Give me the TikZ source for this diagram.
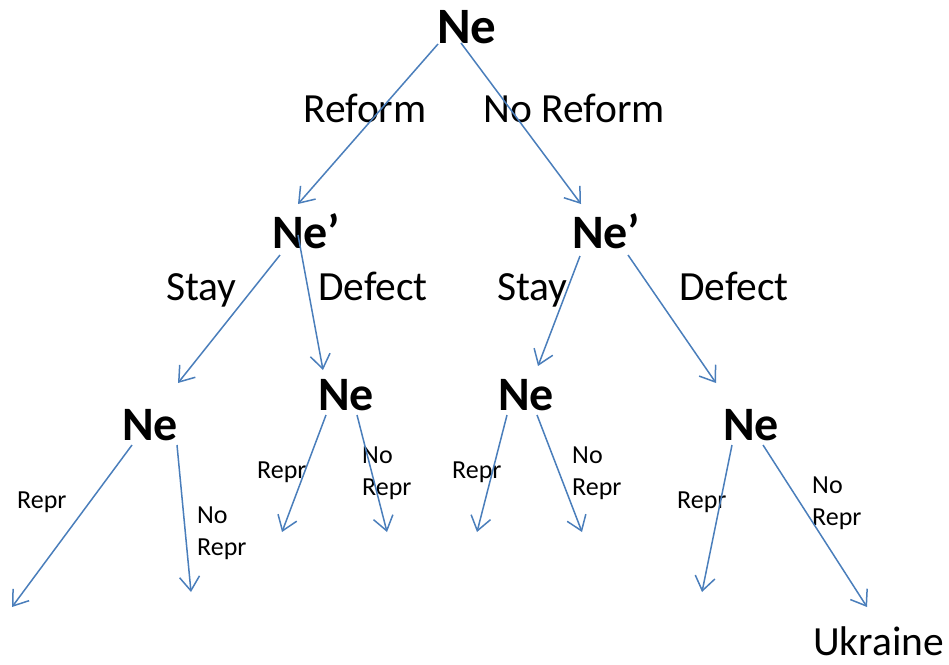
\documentclass[tikz,border=0pt]{standalone}
\usepackage{fontspec}
\setmainfont{Carlito}
\usetikzlibrary{arrows.meta}
\definecolor{edgeblue}{HTML}{4A7EBB}
\tikzset{
 big/.style={font=\fontsize{48}{48}\selectfont\bfseries, inner sep=0, anchor=base west},
 lab/.style={font=\fontsize{41.5}{41.5}\selectfont, inner sep=0, anchor=base west},
 small/.style={font=\fontsize{26}{32}\selectfont, inner sep=0, anchor=base west, align=left},
 arr/.style={draw=edgeblue, line width=1.5pt, -{Straight Barb[length=14pt, width=20pt, line width=1.5pt]}},
}
\begin{document}
\begin{tikzpicture}[x=1pt,y=-1pt]
\useasboundingbox (0,0) rectangle (949,664);
% game nodes
\node[big, font=\fontsize{51}{51}\selectfont\bfseries] (n0) at (437,43) {Ne};
\node[big] (n1) at (272,248) {Ne’};
\node[big] (n2) at (572,248) {Ne’};
\node[big] (n3) at (122,440) {Ne};
\node[big] (n4) at (318,410) {Ne};
\node[big] (n5) at (498,410) {Ne};
\node[big] (n6) at (723,440) {Ne};
% leaf ends
\coordinate (l1) at (12,607);
\coordinate (l2) at (191,592);
\coordinate (l3) at (282,532);
\coordinate (l4) at (387,532);
\coordinate (l5) at (477,532);
\coordinate (l6) at (582,532);
\coordinate (l7) at (702,592);
\coordinate (l8) at (867,607);
% labels
\node[lab] (tReform) at (303,122) {Reform};
\node[lab] (tNoReform) at (483,122) {No Reform};
\node[lab] (tStay1) at (166,300) {Stay};
\node[lab] (tDefect1) at (318,300) {Defect};
\node[lab] (tStay2) at (497,300) {Stay};
\node[lab] (tDefect2) at (679,300) {Defect};
\node[small] (r1) at (17,508) {Repr};
\node[small] (nr1) at (197,555) {No\\Repr};
\node[small] (r2) at (257,478) {Repr};
\node[small] (nr2) at (362,495) {No\\Repr};
\node[small] (r3) at (452,478) {Repr};
\node[small] (nr3) at (572,495) {No\\Repr};
\node[small] (r4) at (677,508) {Repr};
\node[small] (nr4) at (812,525) {No\\Repr};
\node[lab] (ukr) at (813,655) {Ukraine};
% connectors
\draw[arr] ([shift={(1,1)}]n0.base west) -- ([shift={(26,-44)}]n1.base west);
\draw[arr] ([shift={(24,0)}]n0.base west) -- ([shift={(9,-44)}]n2.base west);
\draw[arr] ([shift={(8,7)}]n1.base west) -- ([shift={(56,-57)}]n3.base west);
\draw[arr] ([shift={(26,-13)}]n1.base west) -- ([shift={(5,-40)}]n4.base west);
\draw[arr] ([shift={(8,8)}]n2.base west) -- ([shift={(40,-44)}]n5.base west);
\draw[arr] ([shift={(56,7)}]n2.base west) -- ([shift={(-7,-57)}]n6.base west);
\draw[arr] ([shift={(10,5)}]n3.base west) -- (l1);
\draw[arr] ([shift={(55,5)}]n3.base west) -- (l2);
\draw[arr] ([shift={(8,5)}]n4.base west) -- (l3);
\draw[arr] ([shift={(39,5)}]n4.base west) -- (l4);
\draw[arr] ([shift={(9,5)}]n5.base west) -- (l5);
\draw[arr] ([shift={(39,5)}]n5.base west) -- (l6);
\draw[arr] ([shift={(9,5)}]n6.base west) -- (l7);
\draw[arr] ([shift={(40,5)}]n6.base west) -- (l8);
\end{tikzpicture}
\end{document}
